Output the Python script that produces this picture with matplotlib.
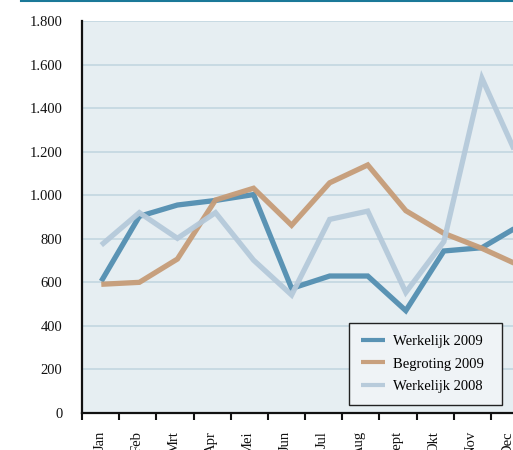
import matplotlib
matplotlib.use("Agg")
import matplotlib.pyplot as plt
from matplotlib.lines import Line2D
import numpy as np

months = ["Jan", "Feb", "Mrt", "Apr", "Mei", "Jun", "Jul", "Aug", "Sept", "Okt", "Nov", "Dec"]
werkelijk_2009 = [605, 903, 955, 976, 1003, 572, 629, 629, 470, 744, 759, 862]
begroting_2009 = [591, 600, 707, 978, 1032, 862, 1057, 1139, 929, 825, 756, 676]
werkelijk_2008 = [771, 920, 802, 920, 702, 542, 889, 927, 554, 787, 1537, 1150]
yticks = [0, 200, 400, 600, 800, 1000, 1200, 1400, 1600, 1800]
ytick_labels = ["0", "200", "400", "600", "800", "1.000", "1.200", "1.400", "1.600", "1.800"]

W, H = 513, 450
fig = plt.figure(figsize=(W / 100, H / 100), dpi=100)
fig.patch.set_facecolor("white")

# layout in pixels
ax_left, ax_right, ax_top, ax_bottom = 82, 528, 21, 413
first_pt, pt_step = 101, 38.1
ax = fig.add_axes([ax_left / W, (H - ax_bottom) / H, (ax_right - ax_left) / W, (ax_bottom - ax_top) / H])
ax.set_facecolor("#e6eef2")

x = np.arange(len(months))
c_dark = "#5a93b4"
c_tan = "#c69c78"
c_light = "#b5c9da"
lw = 3.8
ax.plot(x, werkelijk_2009, color=c_dark, lw=lw, label="Werkelijk 2009", solid_joinstyle="miter", solid_capstyle="butt", zorder=3)
ax.plot(x, begroting_2009, color=c_tan, lw=lw, label="Begroting 2009", solid_joinstyle="miter", solid_capstyle="butt", zorder=4, alpha=0.95)
ax.plot(x, werkelijk_2008, color=c_light, lw=lw, label="Werkelijk 2008", solid_joinstyle="miter", solid_capstyle="butt", zorder=5, alpha=0.95)

def px2x(p):
    return (p - first_pt) / pt_step

ax.set_xlim(px2x(ax_left), px2x(ax_right))
ax.set_ylim(0, 1800)

serif = ["Liberation Serif", "DejaVu Serif"]
ax.set_yticks(yticks)
ax.set_yticklabels(ytick_labels, family=serif, fontsize=10.5, color="#111111")
ax.tick_params(axis="y", length=0, pad=14)
ax.yaxis.grid(True, color="#c3d6e1", lw=1.2)
ax.set_axisbelow(True)

# x: boundary ticks (minor) and centered labels (major)
bounds = [px2x(81.7 + 37.2 * k) for k in range(13)]
centers = [px2x(100 + 37.1 * k) for k in range(12)]
ax.set_xticks(centers)
ax.set_xticklabels(months, rotation=90, family=serif, fontsize=10.5, color="#111111", va="top")
ax.set_xticks(bounds, minor=True)
ax.tick_params(axis="x", which="major", length=0, pad=13)
ax.tick_params(axis="x", which="minor", length=5, width=1.5, color="#111111", direction="out")

for s in ["top", "right"]:
    ax.spines[s].set_visible(False)
ax.spines["left"].set_color("#111111")
ax.spines["left"].set_linewidth(1.6)
ax.spines["bottom"].set_color("#111111")
ax.spines["bottom"].set_linewidth(1.6)

leg = ax.legend(loc="upper left", bbox_to_anchor=(349 / W, 42 / H, 153 / W, 85 / H), bbox_transform=fig.transFigure,
                mode="expand", borderaxespad=0, frameon=True, fancybox=False, framealpha=1,
                prop={"family": serif, "size": 10.5}, handlelength=1.7, handletextpad=0.5,
                labelspacing=0.65, borderpad=0.8)
leg.get_frame().set_edgecolor("#222222")
leg.get_frame().set_linewidth(1.0)
leg.get_frame().set_facecolor("#eff3f6")
for l in leg.get_lines():
    l.set_linewidth(3)
leg.set_zorder(10)

fig.add_artist(Line2D([21 / W, 1], [1 - 1 / H, 1 - 1 / H], color="#1a7898", lw=1.5, transform=fig.transFigure))

fig.savefig("out.png", dpi=100)
